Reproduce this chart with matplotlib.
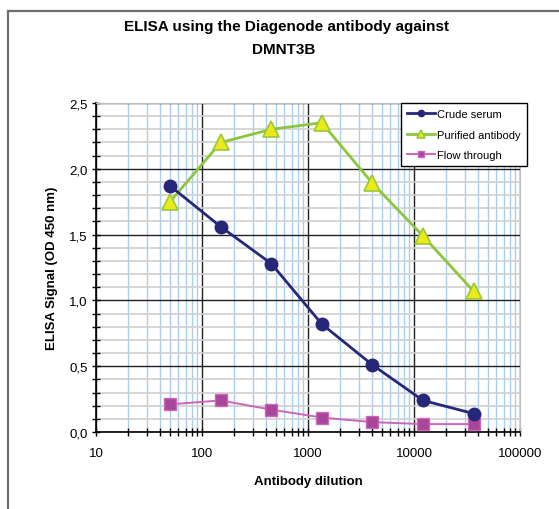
import matplotlib
matplotlib.use("Agg")
import matplotlib.pyplot as plt
from matplotlib.ticker import LogLocator, MultipleLocator, FixedLocator, NullFormatter, FuncFormatter
from matplotlib.patches import Rectangle

plt.rcParams['font.family'] = ['Liberation Sans', 'DejaVu Sans']

dilution = [50, 150, 450, 1350, 4050, 12150, 36450]
crude_serum = [1.87, 1.56, 1.28, 0.82, 0.51, 0.24, 0.14]
purified_antibody = [1.75, 2.20, 2.30, 2.35, 1.89, 1.49, 1.07]
flow_through = [0.21, 0.24, 0.17, 0.11, 0.075, 0.06, 0.06]

x_ticks = [10, 100, 1000, 10000, 100000]
x_tick_labels = ["10", "100", "1000", "10000", "100000"]

fig = plt.figure(figsize=(5.59, 5.10), dpi=100)
# outer frame (cropped at right/bottom like the reference)
fig.patches.append(Rectangle((8/559, -0.1), 1.2, 1 - 12/510 + 0.1, transform=fig.transFigure,
                             fill=False, edgecolor='#6e6e6e', linewidth=1.6))

ax = fig.add_axes([96/559, 1 - 433/510, (520 - 96)/559, (433 - 104)/510])
ax.set_xscale('log')
ax.set_xlim(10, 100000)
ax.set_ylim(0, 2.5)

ax.xaxis.set_major_locator(FixedLocator(x_ticks))
ax.xaxis.set_minor_locator(LogLocator(base=10, subs=range(2, 10)))
ax.xaxis.set_major_formatter(FuncFormatter(lambda v, p: x_tick_labels[x_ticks.index(v)] if v in x_ticks else ""))
ax.xaxis.set_minor_formatter(NullFormatter())
ax.yaxis.set_major_locator(MultipleLocator(0.5))
ax.yaxis.set_minor_locator(MultipleLocator(0.1))
ax.yaxis.set_major_formatter(FuncFormatter(lambda v, p: f"{v:.1f}".replace('.', ',')))

ax.grid(which='minor', axis='x', color='#a9cdee', linewidth=1.0)
ax.grid(which='minor', axis='y', color='#cfcfcf', linewidth=1.2)
ax.grid(which='major', axis='both', color='#202020', linewidth=1.0)
ax.set_axisbelow(True)

ax.tick_params(which='both', direction='inout', length=6, width=1, colors='black', labelsize=9.5)
ax.tick_params(axis='x', which='major', pad=8)
ax.tick_params(axis='y', which='major', pad=3)

for s in ['top', 'right']:
    ax.spines[s].set_color('#bdbdbd')
for s in ['left', 'bottom']:
    ax.spines[s].set_color('black')
    ax.spines[s].set_linewidth(1.2)

ax.plot(dilution, crude_serum, color='#27277a', linewidth=2, marker='o', markersize=9,
        markerfacecolor='#27277a', markeredgecolor='#27277a', label='Crude serum', zorder=4)
ax.plot(dilution, purified_antibody, color='#8cc63e', linewidth=2, marker='^', markersize=11,
        markerfacecolor='#eaea1a', markeredgecolor='#9ac83a', markeredgewidth=1.2,
        label='Purified antibody', zorder=3)
ax.plot(dilution, flow_through, color='#cc66b8', linewidth=1.4, marker='s', markersize=8,
        markerfacecolor='#a8479a', markeredgecolor='#cc66b8', label='Flow through', zorder=3)

leg = ax.legend(loc='upper right', bbox_to_anchor=(1.0165, 1.0), borderaxespad=0, fontsize=8,
                markerscale=0.5, frameon=True, fancybox=False, edgecolor='black', framealpha=1,
                handlelength=2.5, handletextpad=0.2, labelspacing=0.95, borderpad=0.55)
leg.get_frame().set_linewidth(1.0)
leg.set_zorder(10)

ax.set_xlabel('Antibody dilution', fontsize=9.5, fontweight='bold', labelpad=11)
ax.set_ylabel('ELISA Signal (OD 450 nm)', fontsize=9.5, fontweight='bold', labelpad=8)

fig.text(0.512, 1 - 27/510, 'ELISA using the Diagenode antibody against', ha='center', va='center',
         fontsize=11, fontweight='bold')
fig.text(0.508, 1 - 50/510, 'DMNT3B', ha='center', va='center', fontsize=11, fontweight='bold')

fig.savefig('out.png', dpi=100)
